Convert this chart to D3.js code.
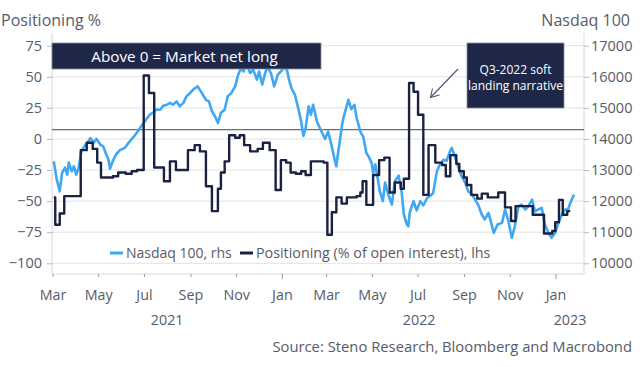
<!DOCTYPE html>
<html><head><meta charset="utf-8">
<script src="https://cdn.jsdelivr.net/npm/d3@7"></script>
<style>
body{margin:0;background:#fff}
svg{display:block}
text{font-family:"Open Sans",sans-serif;fill:#575b68}
</style>
</head><body>
<svg id="c" width="642" height="367"></svg>
<script>
const nasdaqDates = ["2021-03-02","2021-03-06","2021-03-10","2021-03-13","2021-03-17","2021-03-20","2021-03-22","2021-03-26","2021-03-29","2021-04-01","2021-04-04","2021-04-08","2021-04-13","2021-04-17","2021-04-20","2021-04-24","2021-04-28","2021-05-03","2021-05-07","2021-05-11","2021-05-14","2021-05-16","2021-05-20","2021-05-24","2021-05-29","2021-06-05","2021-06-09","2021-06-14","2021-06-18","2021-06-23","2021-06-27","2021-07-04","2021-07-08","2021-07-13","2021-07-17","2021-07-22","2021-07-26","2021-07-31","2021-08-04","2021-08-08","2021-08-13","2021-08-17","2021-08-22","2021-08-26","2021-08-31","2021-09-04","2021-09-10","2021-09-15","2021-09-21","2021-09-25","2021-09-29","2021-10-03","2021-10-07","2021-10-11","2021-10-16","2021-10-20","2021-10-25","2021-10-30","2021-11-03","2021-11-07","2021-11-10","2021-11-14","2021-11-19","2021-11-23","2021-11-28","2021-12-01","2021-12-05","2021-12-09","2021-12-12","2021-12-17","2021-12-21","2021-12-26","2021-12-31","2022-01-03","2022-01-07","2022-01-10","2022-01-13","2022-01-18","2022-01-22","2022-01-26","2022-01-29","2022-02-01","2022-02-05","2022-02-08","2022-02-11","2022-02-16","2022-02-20","2022-02-23","2022-02-27","2022-03-03","2022-03-08","2022-03-12","2022-03-14","2022-03-16","2022-03-19","2022-03-22","2022-03-24","2022-03-30","2022-04-01","2022-04-03","2022-04-07","2022-04-10","2022-04-15","2022-04-19","2022-04-23","2022-04-26","2022-04-30","2022-05-02","2022-05-05","2022-05-08","2022-05-11","2022-05-15","2022-05-18","2022-05-22","2022-05-27","2022-05-31","2022-06-05","2022-06-09","2022-06-12","2022-06-16","2022-06-18","2022-06-20","2022-06-25","2022-06-29","2022-07-04","2022-07-08","2022-07-13","2022-07-16","2022-07-21","2022-07-26","2022-07-30","2022-08-04","2022-08-08","2022-08-13","2022-08-15","2022-08-19","2022-08-24","2022-08-28","2022-09-02","2022-09-06","2022-09-11","2022-09-15","2022-09-19","2022-09-24","2022-09-28","2022-10-03","2022-10-07","2022-10-10","2022-10-15","2022-10-21","2022-10-25","2022-10-29","2022-11-03","2022-11-07","2022-11-12","2022-11-16","2022-11-21","2022-11-25","2022-11-30","2022-12-04","2022-12-08","2022-12-13","2022-12-17","2022-12-22","2022-12-26","2022-12-31","2023-01-04","2023-01-09","2023-01-13","2023-01-17","2023-01-20","2023-01-25"];
const nasdaqValues = [13280,12700,12315,12900,13080,12850,13240,12960,13120,12850,13050,13620,13800,13920,14030,13880,14000,13820,13760,13500,13330,13040,13300,13500,13630,13720,13850,14000,14110,14270,14420,14650,14780,14860,14950,14940,15070,15100,15160,15100,15210,15050,15160,15370,15480,15590,15690,15500,15260,15210,14890,14730,14510,14840,14940,15370,15480,15690,16070,16280,16170,16450,16120,16230,15910,16170,15750,16120,16330,16100,15690,16070,16200,16300,16230,15900,15640,15400,15000,14570,14100,14350,15050,14780,15100,14570,14350,14200,14000,14240,13750,13300,13120,13500,14000,14510,14730,15260,15100,14960,15100,14680,14240,14060,13550,13440,13230,12910,13180,12750,12310,12000,12600,12230,11890,12640,12820,12310,11570,11250,11190,11650,12000,11700,12000,11860,12100,12150,12250,12950,13170,13330,13300,13620,13710,13440,13070,12800,12590,12310,12210,12050,11890,11570,11410,11620,11250,10980,11250,11300,11730,11410,10820,11190,11830,11890,11730,11830,12050,11670,11730,11780,11250,10980,10820,10980,11300,11570,11730,11730,11940,12210];

const posDates = ["2021-03-02","2021-03-04","2021-03-10","2021-03-16","2021-04-07","2021-04-15","2021-04-23","2021-04-29","2021-05-04","2021-05-20","2021-05-27","2021-06-06","2021-06-14","2021-06-21","2021-06-30","2021-07-07","2021-07-14","2021-07-27","2021-08-04","2021-08-12","2021-08-28","2021-09-06","2021-09-13","2021-09-21","2021-09-29","2021-10-07","2021-10-11","2021-10-16","2021-10-22","2021-10-30","2021-11-05","2021-11-11","2021-11-19","2021-11-29","2021-12-06","2021-12-15","2021-12-23","2021-12-30","2022-01-06","2022-01-12","2022-01-19","2022-01-26","2022-02-01","2022-02-08","2022-02-25","2022-03-02","2022-03-08","2022-03-14","2022-03-21","2022-03-28","2022-04-10","2022-04-15","2022-04-18","2022-04-23","2022-05-02","2022-05-10","2022-05-17","2022-05-24","2022-05-31","2022-06-08","2022-06-12","2022-06-19","2022-06-25","2022-07-01","2022-07-08","2022-07-15","2022-07-24","2022-08-02","2022-08-07","2022-08-13","2022-08-21","2022-08-25","2022-08-31","2022-09-04","2022-09-10","2022-09-18","2022-09-24","2022-10-02","2022-10-16","2022-10-25","2022-11-02","2022-11-08","2022-12-01","2022-12-16","2022-12-27","2022-12-31","2023-01-05","2023-01-10","2023-01-16","2023-01-20"];
const posValues = [-47,-69,-60,-46,-9,-3,-8,-19,-31,-30,-27,-28,-26,-25,51,37,-23,-34,-18,-25,-9,-5,-10,-38,-58,-40,-27,-18,3,1,3,-5,-10,-8,-3,-9,-41,-17,-19,-27,-28,-26,-29,-18,-19,-77,-59,-47,-52,-47,-46,-43,-34,-53,-29,-17,-15,-43,-35,-40,-32,45,38,19.5,-45,-5,-19,-21,-30,-13,-20,-26,-31,-37,-45,-48,-44,-47,-43,-55,-66,-54,-61,-76,-74,-67,-49,-61,-58,-58];

const leftTicks = [75,50,25,0,-25,-50,-75,-100];
const rightTicks = [17000,16000,15000,14000,13000,12000,11000,10000];
const monthTicks = ["2021-03-01","2021-05-01","2021-07-01","2021-09-01","2021-11-01","2022-01-01","2022-03-01","2022-05-01","2022-07-01","2022-09-01","2022-11-01","2023-01-01"];
const monthLabels = ["Mar","May","Jul","Sep","Nov","Jan","Mar","May","Jul","Sep","Nov","Jan"];
const yearLabels = ["2021","2022","2023"];
const yearStarts = ["2021-01-01","2022-01-01","2023-01-01","2024-01-01"];
const netLongLevel = 7.5;
const seriesNames = ["Nasdaq 100, rhs","Positioning (% of open interest), lhs"];

const parse = d3.utcParse("%Y-%m-%d");
const L = 52, R = 584, T = 33, B = 274;
const BLUE = "#3fa7f4", NAVY = "#1b2140", BOX = "#1f2749";

const svg = d3.select("#c");
const x = d3.scaleUtc().domain([parse("2021-03-01"), parse("2023-01-01")]).range([53, 556]);
const yL = d3.scaleLinear().domain([-100, 75]).range([263.3, 45.7]);
const yR = d3.scaleLinear().domain([10000, 17000]).range([263.3, 45.7]);

// gridlines
svg.append("g").selectAll("line").data(leftTicks).join("line")
  .attr("x1", L).attr("x2", R).attr("y1", d => yL(d)).attr("y2", d => yL(d))
  .attr("stroke", "#e1e1e4").attr("stroke-width", 1);

// frame
svg.append("line").attr("x1", L).attr("x2", L).attr("y1", T).attr("y2", B).attr("stroke", "#d6d6da");
svg.append("line").attr("x1", R).attr("x2", R).attr("y1", T).attr("y2", B).attr("stroke", "#d6d6da");
svg.append("line").attr("x1", L).attr("x2", R).attr("y1", B).attr("y2", B).attr("stroke", "#d6d6da");

// left axis
const gl = svg.append("g").attr("transform", `translate(${L},0)`)
  .call(d3.axisLeft(yL).tickValues(leftTicks).tickSize(5).tickPadding(5));
gl.select(".domain").remove();
gl.selectAll(".tick line").attr("stroke", "#b8b8c0");
gl.selectAll(".tick text").style("font-size", "14.5px").style("font-family", "Open Sans").attr("fill", "#575b68");

// right axis
const gr = svg.append("g").attr("transform", `translate(${R},0)`)
  .call(d3.axisRight(yR).tickValues(rightTicks).tickSize(5).tickPadding(2).tickFormat(d3.format("d")));
gr.select(".domain").remove();
gr.selectAll(".tick line").attr("stroke", "#b8b8c0");
gr.selectAll(".tick text").style("font-size", "14.5px").style("font-family", "Open Sans").attr("fill", "#575b68");

// x ticks
const mt = monthTicks.map(parse);
svg.append("g").selectAll("line").data(mt).join("line")
  .attr("x1", d => x(d)).attr("x2", d => x(d)).attr("y1", B)
  .attr("y2", d => d.getUTCMonth() === 0 ? B + 5 : B + 3)
  .attr("stroke", "#9a9aa4");
svg.append("g").selectAll("text").data(mt).join("text")
  .attr("x", d => x(d)).attr("y", 300).attr("text-anchor", "middle")
  .style("font-size", "14.3px").text((d, i) => monthLabels[i]);
const ys = yearStarts.map(parse);
svg.append("g").selectAll("text").data(yearLabels).join("text")
  .attr("x", (d, i) => (Math.max(L, x(ys[i])) + Math.min(R, x(ys[i + 1]))) / 2)
  .attr("y", 324.5).attr("text-anchor", "middle").style("font-size", "14.3px").text(d => d);

// net-long reference line
svg.append("line").attr("x1", L).attr("x2", R).attr("y1", yL(netLongLevel)).attr("y2", yL(netLongLevel))
  .attr("stroke", "#666a7c").attr("stroke-width", 1.4);

// series
const nasdaq = nasdaqDates.map((d, i) => ({ date: parse(d), v: nasdaqValues[i] }));
const pos = posDates.map((d, i) => ({ date: parse(d), v: posValues[i] }));
svg.append("path").datum(nasdaq)
  .attr("d", d3.line().x(d => x(d.date)).y(d => yR(d.v)).curve(d3.curveLinear))
  .attr("fill", "none").attr("stroke", BLUE).attr("stroke-width", 2.6).attr("stroke-linejoin", "round");
svg.append("path").datum(pos)
  .attr("d", d3.line().x(d => x(d.date)).y(d => yL(d.v)).curve(d3.curveStepAfter))
  .attr("fill", "none").attr("stroke", NAVY).attr("stroke-width", 2.4).attr("stroke-linejoin", "round");

// annotation box 1
svg.append("rect").attr("x", L).attr("y", 43).attr("width", 269).attr("height", 26)
  .attr("fill", BOX).attr("stroke", "#8b8fa3").attr("stroke-width", 0.8);
svg.append("text").attr("x", 184.5).attr("y", 61.5).attr("text-anchor", "middle")
  .style("font-size", "15.3px").style("fill", "#ffffff").text("Above 0 = Market net long");

// annotation box 2
svg.append("rect").attr("x", 467).attr("y", 43).attr("width", 97).attr("height", 65)
  .attr("fill", BOX).attr("stroke", "#8b8fa3").attr("stroke-width", 0.8);
svg.append("text").attr("x", 515.5).attr("y", 74).attr("text-anchor", "middle")
  .style("font-size", "12px").style("fill", "#ffffff").text("Q3-2022 soft");
svg.append("text").attr("x", 515.5).attr("y", 90).attr("text-anchor", "middle")
  .style("font-size", "12px").style("fill", "#ffffff").text("landing narrative");

// arrow
svg.append("line").attr("x1", 458).attr("y1", 69).attr("x2", 430.5).attr("y2", 97.5)
  .attr("stroke", "#4b5170").attr("stroke-width", 1.1);
svg.append("path").attr("d", "M432.5,88.5 L430.5,97.5 L439.5,95")
  .attr("fill", "none").attr("stroke", "#4b5170").attr("stroke-width", 1.1);

// titles
svg.append("text").attr("x", 1).attr("y", 26).style("font-size", "16px").text("Positioning %");
svg.append("text").attr("x", 630).attr("y", 26).attr("text-anchor", "end").style("font-size", "16px").text("Nasdaq 100");

// legend
const lg = svg.append("g");
lg.append("line").attr("x1", 110).attr("x2", 123).attr("y1", 253).attr("y2", 253).attr("stroke", BLUE).attr("stroke-width", 3);
lg.append("text").attr("x", 126).attr("y", 258).style("font-size", "14px").text(seriesNames[0]);
lg.append("line").attr("x1", 240).attr("x2", 253).attr("y1", 253).attr("y2", 253).attr("stroke", NAVY).attr("stroke-width", 3);
lg.append("text").attr("x", 256).attr("y", 258).style("font-size", "14.3px").text(seriesNames[1]);

// source
svg.append("text").attr("x", 632).attr("y", 352).attr("text-anchor", "end").style("font-size", "14.8px")
  .text("Source: Steno Research, Bloomberg and Macrobond");
</script>
</body></html>
